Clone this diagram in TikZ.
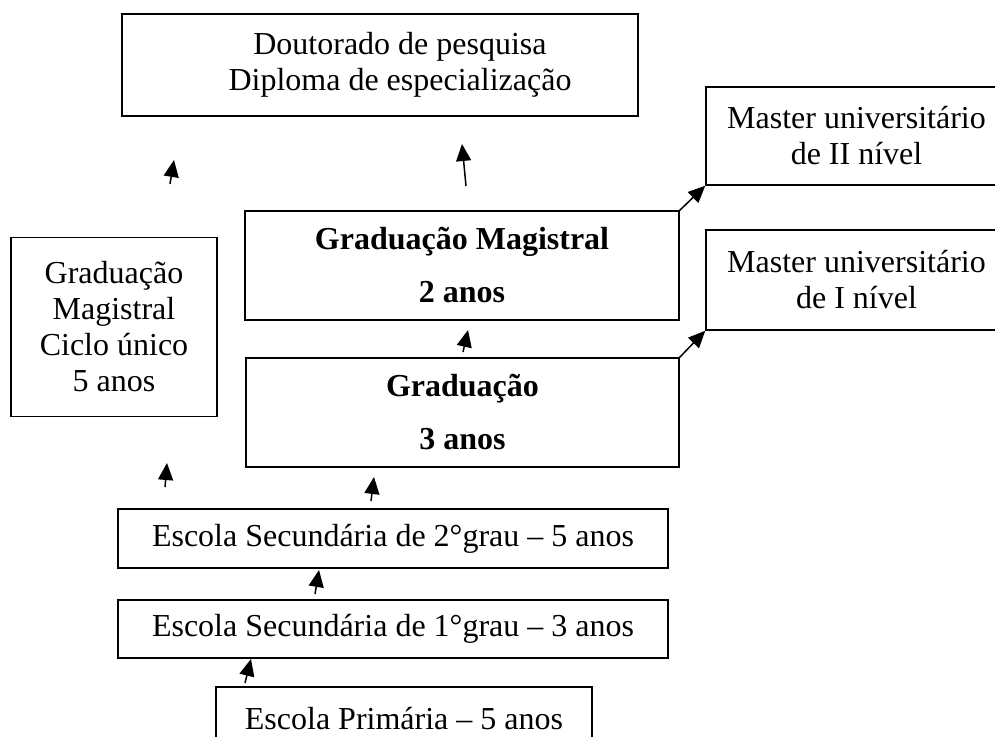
\documentclass[tikz,border=0pt]{standalone}
\usepackage{fontspec}
\setmainfont{Liberation Serif}
\usetikzlibrary{arrows.meta}
\tikzset{
  box/.style={draw, line width=1.5pt, inner sep=0pt, align=center,
    font=\fontsize{32}{36}\selectfont},
  boldbox/.style={box, font=\fontsize{32}{53}\selectfont\bfseries},
  arr/.style={line width=1.5pt, -{Triangle[length=17pt,width=15pt]}}
}
\begin{document}
\begin{tikzpicture}[x=1pt,y=-1pt]
\useasboundingbox (0,0) rectangle (995,736);
\clip (0,0) rectangle (995,736);
% boxes
\node[box, minimum width=516pt, minimum height=102pt] (doc) at (380,65)
  {\hspace*{40pt}Doutorado de pesquisa\\\hspace*{40pt}Diploma de especialização};
\node[box, minimum width=301pt, minimum height=98pt] (m2) at (856.5,136)
  {Master universitário\\de II nível};
\node[box, minimum width=301pt, minimum height=100pt] (m1) at (856.5,280)
  {Master universitário\\de I nível};
\node[boldbox, minimum width=434pt, minimum height=109pt] (gm) at (462,265.5)
  {Graduação Magistral\\2 anos};
\node[boldbox, minimum width=433pt, minimum height=109pt] (gr) at (462.5,412.5)
  {Graduação\\3 anos};
\node[box, minimum width=206pt, minimum height=179pt] (lc) at (114,327)
  {Graduação\\Magistral\\Ciclo único\\5 anos};
\node[box, minimum width=550pt, minimum height=59pt] (e2) at (393,538.5)
  {Escola Secundária de 2°grau – 5 anos};
\node[box, minimum width=550pt, minimum height=58pt] (e1) at (393,629)
  {Escola Secundária de 1°grau – 3 anos};
\node[box, minimum width=376pt, minimum height=63pt] (ep) at (404,718.5)
  {Escola Primária – 5 anos};
% free arrow ends
\coordinate (a1t) at (170,184); \coordinate (a1h) at (174,160);
\coordinate (a2t) at (466,186); \coordinate (a2h) at (462,144);
\coordinate (a4t) at (463,352); \coordinate (a4h) at (468,330);
\coordinate (a6t) at (165,487); \coordinate (a6h) at (167,463);
\coordinate (a7t) at (371,501); \coordinate (a7h) at (374,477);
\coordinate (a8t) at (315,594); \coordinate (a8h) at (319,570);
\coordinate (a9t) at (245,683); \coordinate (a9h) at (251,659);
% arrows
\draw[arr] (a1t) -- (a1h);
\draw[arr] (a2t) -- (a2h);
\draw[arr] (gm.north east) -- (m2.south west);
\draw[arr] (a4t) -- (a4h);
\draw[arr] (gr.north east) -- (m1.south west);
\draw[arr] (a6t) -- (a6h);
\draw[arr] (a7t) -- (a7h);
\draw[arr] (a8t) -- (a8h);
\draw[arr] (a9t) -- (a9h);
\end{tikzpicture}
\end{document}
